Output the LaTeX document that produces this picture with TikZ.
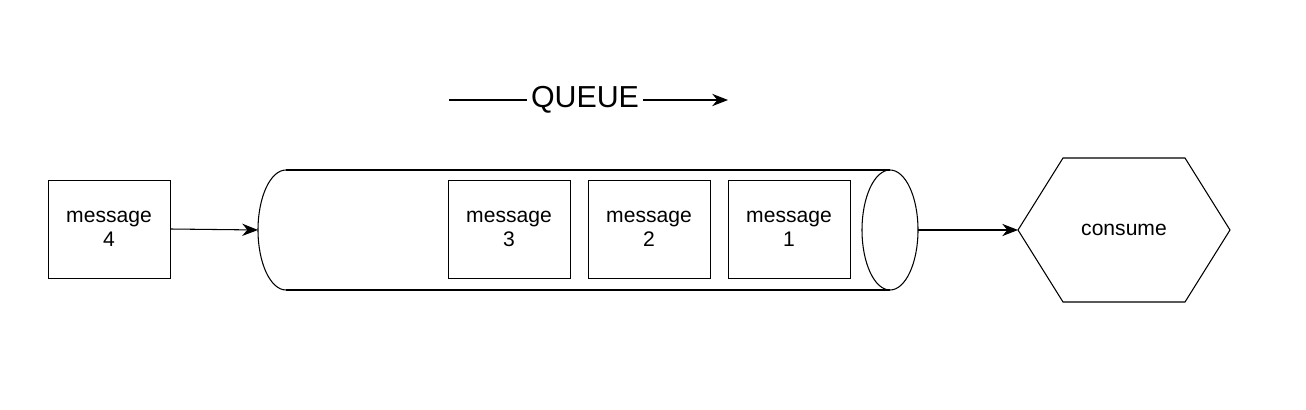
\documentclass[tikz,border=0pt]{standalone}
\usepackage{fontspec}
\setmainfont{Liberation Sans}
\usetikzlibrary{arrows.meta}
\begin{document}
\begin{tikzpicture}
\tikzstyle{msg}=[rectangle,draw=black,minimum width=2.44cm,minimum height=1.96cm,align=center,font=\large,inner sep=1pt]
\tikzstyle{link}=[-{Stealth[length=9pt,width=7pt]},semithick]

\useasboundingbox (0,0) rectangle (26.12,8.2);

% queue body
\coordinate (qL) at (5.16,3.6);
\coordinate (qR) at (18.36,3.6);
\draw[semithick] (5.72,4.8) -- (17.8,4.8);
\draw[semithick] (5.72,2.4) -- (17.8,2.4);
\draw[semithick] (5.72,4.8) arc[start angle=90,end angle=270,x radius=0.56,y radius=1.2];
\draw[semithick] (17.8,3.6) ellipse[x radius=0.56,y radius=1.2];

\node [msg] at (2.18,3.62) (msg4) {message\\4};
\node [msg] at (10.18,3.62) (msg3) {message\\3};
\node [msg] at (12.98,3.62) (msg2) {message\\2};
\node [msg] at (15.78,3.62) (msg1) {message\\1};

% consumer
\draw[semithick] (20.36,3.6) -- (21.26,5.04) -- (23.70,5.04) -- (24.60,3.6) -- (23.70,2.16) -- (21.26,2.16) -- cycle;
\coordinate (hexL) at (20.36,3.6);
\node [font=\large] at (22.48,3.6) (consume) {consume};

\draw[link] (msg4.east) -- (qL);
\draw[link] (qR) -- (hexL);

% title
\node [font=\LARGE,inner sep=2pt] at (11.7,6.2) (title) {QUEUE};
\coordinate (tS) at (8.98,6.2);
\coordinate (tE) at (14.56,6.2);
\draw[semithick] (tS) -- (title.west);
\draw[link] (title.east) -- (tE);
\end{tikzpicture}
\end{document}
